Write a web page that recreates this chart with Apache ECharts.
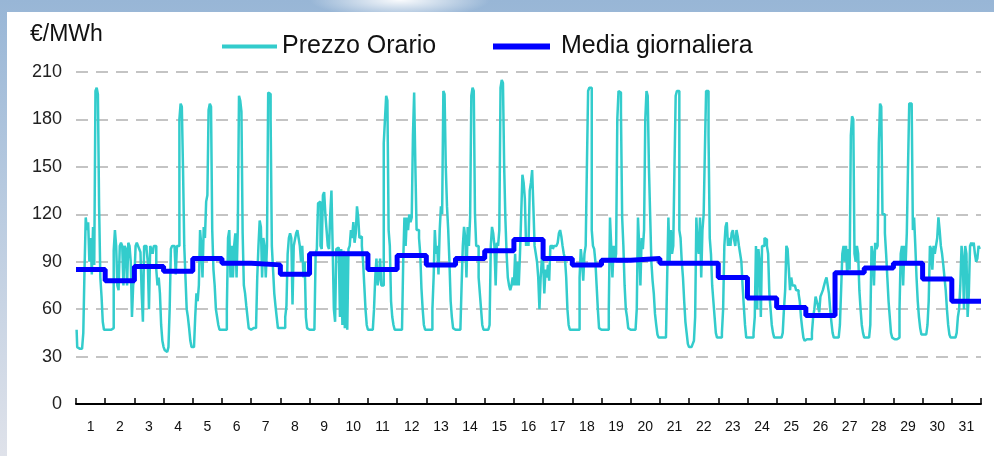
<!DOCTYPE html>
<html>
<head>
<meta charset="utf-8">
<script src="https://cdn.jsdelivr.net/npm/echarts@6/dist/echarts.min.js"></script>
<style>
html, body { margin: 0; padding: 0; width: 994px; height: 456px; overflow: hidden; }
body {
    background:
        radial-gradient(ellipse 90px 18px at 400px 0px, rgba(255,255,255,0.95), rgba(255,255,255,0)),
        linear-gradient(to bottom, #98b6d6 0%, #b9cbe0 45%, #dfe2ea 100%);
}
#chart { position: absolute; left: 7px; top: 12px; width: 987px; height: 444px; background: #fff; }
</style>
</head>
<body>
<div id="chart"></div>
<script>
// giorni del mese (etichette asse x)
var giorni = ['1', '2', '3', '4', '5', '6', '7', '8', '9', '10', '11', '12', '13', '14', '15', '16',
    '17', '18', '19', '20', '21', '22', '23', '24', '25', '26', '27', '28', '29', '30', '31'];

// prezzo orario, una riga per giorno (24 ore)
var prezzoOrario = [
    [47, 36, 35, 35, 35, 36, 45, 85, 118, 110, 115, 90, 105, 82, 112, 88, 198, 200, 196, 125, 80, 68, 52, 47],
    [47, 47, 47, 47, 47, 47, 48, 97, 110, 100, 75, 72, 100, 102, 100, 75, 100, 98, 75, 102, 100, 90, 55, 75],
    [80, 100, 102, 100, 98, 96, 70, 52, 100, 100, 98, 90, 60, 100, 98, 95, 100, 100, 85, 75, 80, 70, 50, 40],
    [36, 34, 33, 34, 36, 60, 98, 100, 100, 100, 82, 100, 100, 180, 190, 188, 148, 100, 80, 60, 55, 48, 40, 36],
    [36, 35, 55, 70, 65, 75, 110, 100, 80, 112, 105, 128, 132, 186, 190, 188, 110, 85, 75, 60, 55, 50, 47, 47],
    [47, 47, 47, 47, 60, 105, 110, 80, 100, 80, 100, 108, 80, 110, 195, 192, 185, 108, 75, 70, 62, 55, 48, 47],
    [48, 48, 48, 48, 48, 80, 100, 116, 112, 80, 105, 100, 80, 100, 197, 196, 180, 100, 85, 70, 62, 55, 48, 48],
    [48, 48, 48, 48, 55, 62, 95, 105, 108, 105, 63, 100, 104, 108, 110, 105, 100, 90, 100, 80, 90, 55, 48, 47],
    [47, 47, 47, 47, 47, 95, 98, 127, 128, 100, 98, 132, 134, 120, 110, 100, 98, 120, 135, 99, 60, 52, 98, 99],
    [100, 55, 98, 50, 97, 48, 95, 47, 98, 100, 110, 105, 115, 102, 108, 125, 118, 105, 106, 100, 90, 75, 60, 50],
    [47, 47, 47, 47, 48, 60, 80, 92, 75, 80, 92, 75, 75, 165, 180, 195, 192, 110, 100, 65, 55, 50, 47, 47],
    [47, 47, 47, 47, 47, 90, 118, 100, 118, 110, 120, 115, 118, 170, 197, 150, 110, 110, 105, 95, 73, 60, 50, 47],
    [47, 47, 47, 47, 47, 60, 80, 110, 95, 100, 82, 110, 125, 120, 198, 196, 150, 125, 110, 90, 65, 55, 48, 47],
    [47, 47, 47, 47, 47, 75, 100, 112, 105, 80, 112, 100, 118, 195, 200, 198, 120, 100, 100, 80, 70, 60, 50, 47],
    [47, 47, 47, 47, 50, 100, 112, 108, 100, 75, 102, 100, 110, 200, 205, 203, 150, 117, 95, 80, 75, 72, 75, 80],
    [75, 95, 75, 90, 75, 95, 120, 145, 140, 130, 100, 105, 100, 135, 140, 148, 125, 100, 95, 90, 80, 60, 80, 92],
    [90, 70, 85, 80, 88, 78, 100, 100, 98, 100, 100, 100, 102, 108, 110, 106, 100, 95, 92, 80, 60, 50, 47, 47],
    [47, 47, 47, 47, 47, 47, 80, 98, 90, 78, 95, 100, 150, 198, 200, 200, 110, 100, 98, 90, 75, 60, 48, 47],
    [47, 47, 47, 47, 47, 47, 60, 118, 100, 80, 100, 90, 95, 180, 198, 197, 185, 118, 100, 75, 60, 55, 48, 47],
    [47, 47, 47, 47, 47, 60, 118, 100, 75, 105, 98, 110, 180, 198, 195, 150, 120, 90, 78, 70, 57, 50, 44, 42],
    [42, 42, 42, 42, 42, 42, 80, 118, 90, 110, 95, 100, 150, 195, 198, 198, 110, 105, 90, 80, 65, 52, 45, 38],
    [36, 36, 36, 38, 40, 55, 118, 100, 95, 118, 80, 110, 120, 160, 198, 198, 170, 105, 95, 75, 65, 55, 45, 42],
    [42, 42, 42, 45, 60, 100, 112, 115, 100, 105, 100, 108, 110, 104, 100, 110, 106, 100, 95, 90, 75, 62, 50, 42],
    [42, 42, 42, 42, 42, 45, 55, 100, 60, 98, 90, 55, 100, 100, 105, 104, 100, 95, 70, 60, 50, 45, 42, 42],
    [42, 42, 42, 42, 42, 45, 60, 72, 100, 98, 85, 72, 80, 75, 75, 75, 72, 72, 70, 65, 55, 48, 42, 40],
    [41, 41, 41, 41, 41, 45, 55, 60, 68, 65, 62, 58, 68, 70, 72, 75, 78, 80, 75, 70, 60, 52, 45, 42],
    [42, 42, 42, 42, 50, 72, 95, 100, 90, 100, 82, 98, 85, 170, 182, 180, 95, 90, 100, 95, 72, 60, 50, 45],
    [42, 42, 42, 42, 42, 50, 100, 95, 75, 102, 98, 100, 165, 190, 188, 120, 120, 108, 95, 80, 65, 55, 45, 42],
    [41, 41, 41, 41, 42, 60, 95, 100, 75, 100, 88, 108, 150, 190, 190, 190, 110, 118, 100, 80, 65, 55, 48, 44],
    [44, 44, 44, 44, 50, 65, 100, 98, 85, 100, 95, 100, 105, 118, 110, 100, 95, 88, 80, 72, 60, 50, 44, 42],
    [42, 42, 42, 42, 45, 55, 60, 75, 100, 92, 60, 100, 95, 55, 70, 100, 102, 100, 102, 95, 90, 92, 100, 98]
];

// media giornaliera
var mediaGiornaliera = [85, 78, 87, 84, 92, 89, 88, 82, 95, 95, 85, 94, 88, 92, 97, 104,
    92, 88, 91, 92, 89, 89, 80, 67, 61, 56, 83, 86, 89, 79, 65];

var fontTesto = 'Liberation Sans, Arial, sans-serif';

// punti orari: asse nascosto in ore (0..744)
var puntiOrari = [];
prezzoOrario.forEach(function (giorno, d) {
    giorno.forEach(function (v, h) {
        puntiOrari.push([d * 24 + h + 0.5, v]);
    });
});

// gradini della media: un tratto orizzontale per ogni giorno
var puntiMedia = [];
mediaGiornaliera.forEach(function (v, d) {
    puntiMedia.push([d * 24, v], [(d + 1) * 24, v]);
});

var chart = echarts.init(document.getElementById('chart'));
chart.setOption({
    animation: false,
    title: {
        text: '€/MWh',
        left: 18,
        top: 6,
        textStyle: { fontSize: 23, fontWeight: 'normal', color: '#111', fontFamily: fontTesto }
    },
    legend: [{
        data: ['Prezzo Orario'],
        left: 210,
        top: 17,
        icon: 'rect',
        itemWidth: 55,
        itemHeight: 4,
        textStyle: { fontSize: 25, color: '#111', fontFamily: fontTesto }
    }, {
        data: ['Media giornaliera'],
        left: 481,
        top: 17,
        icon: 'rect',
        itemWidth: 57,
        itemHeight: 6,
        textStyle: { fontSize: 25, color: '#111', fontFamily: fontTesto, padding: [0, 0, 0, 6] }
    }],
    grid: { left: 69, right: 13, top: 60, bottom: 52 },
    xAxis: [{
        type: 'category',
        data: giorni,
        boundaryGap: true,
        axisLine: { lineStyle: { color: '#000', width: 2 } },
        axisTick: { show: true, inside: true, length: 6, lineStyle: { color: '#000', width: 1.5 } },
        axisLabel: {
            interval: 0,
            margin: 16,
            fontSize: 14,
            color: '#111',
            fontFamily: 'Liberation Sans Narrow, Liberation Sans, sans-serif'
        },
        splitLine: { show: false }
    }, {
        type: 'value',
        min: 0,
        max: 744,
        show: false
    }],
    yAxis: {
        type: 'value',
        min: 0,
        max: 210,
        interval: 30,
        axisLine: { show: false },
        axisTick: { show: false },
        axisLabel: { fontSize: 18, color: '#222', margin: 14, fontFamily: fontTesto },
        splitLine: { lineStyle: { type: [12, 8], color: '#c4c4c4', width: 2 } }
    },
    series: [{
        name: 'Prezzo Orario',
        type: 'line',
        xAxisIndex: 1,
        data: puntiOrari,
        step: 'middle',
        showSymbol: false,
        lineStyle: { color: '#33cccc', width: 2.5 },
        itemStyle: { color: '#33cccc' }
    }, {
        name: 'Media giornaliera',
        type: 'line',
        xAxisIndex: 1,
        data: puntiMedia,
        showSymbol: false,
        lineStyle: { color: '#0000ff', width: 5 },
        itemStyle: { color: '#0000ff' }
    }]
});
</script>
</body>
</html>
